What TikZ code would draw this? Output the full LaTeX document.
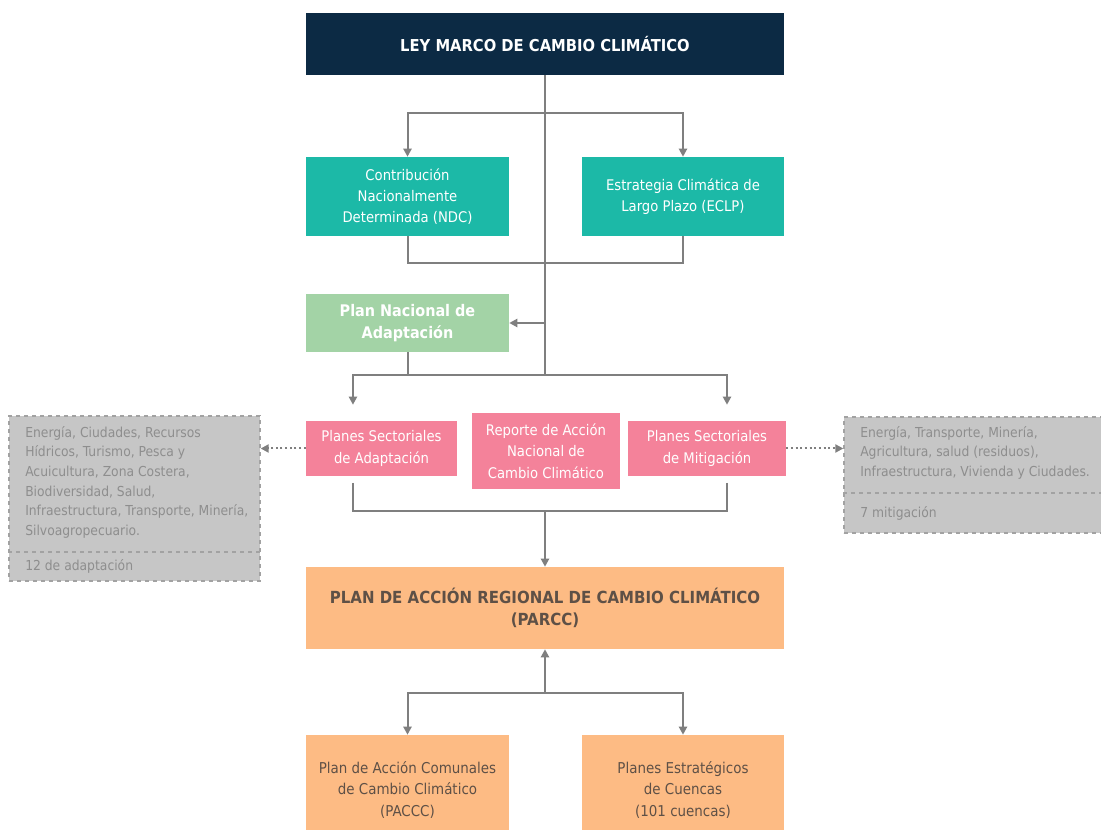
\documentclass[tikz,border=0pt]{standalone}
\usepackage{fontspec}
\setmainfont{DejaVu Sans Condensed}
\usetikzlibrary{arrows.meta,calc}
\definecolor{navy}{HTML}{0C2A44}
\definecolor{teal}{HTML}{1CB9A7}
\definecolor{lgreen}{HTML}{A3D3A6}
\definecolor{pink}{HTML}{F4829A}
\definecolor{orange}{HTML}{FDBB84}
\definecolor{greyfill}{HTML}{C6C6C6}
\definecolor{greyline}{HTML}{A2A2A2}
\definecolor{greytext}{HTML}{8E8E8E}
\definecolor{conn}{HTML}{7F7F7F}
\definecolor{brown}{HTML}{5E5046}
\tikzset{
  box/.style={rectangle, inner sep=2pt, align=center},
  conline/.style={draw=conn, line width=1.5pt},
  arr/.style={conline, -{Triangle[length=6pt,width=6pt]}},
  dotarr/.style={draw=conn, line width=1.5pt, dotted, -{Triangle[length=6pt,width=6pt]}},
  greybox/.style={rectangle, fill=greyfill, draw=greyline, dashed, line width=1pt},
  greytxt/.style={anchor=north west, align=left, text=greytext, font=\fontsize{10.3}{14.7}\selectfont, inner sep=0pt},
}
\begin{document}
\begin{tikzpicture}[x=0.75pt, y=-0.75pt]
\clip (0,0) rectangle (1101,830);
\fill[white] (0,0) rectangle (1101,830);
% boxes
\node[box, fill=navy, text=white, minimum width=358.5pt, minimum height=46.5pt, font=\fontsize{12.3}{14}\selectfont\bfseries] (title) at (545,44) {LEY MARCO DE CAMBIO CLIMÁTICO};
\node[box, fill=teal, text=white, minimum width=152.25pt, minimum height=59.25pt, font=\fontsize{11}{16}\selectfont] (ndc) at (407.5,196.5) {Contribución\\Nacionalmente\\Determinada (NDC)};
\node[box, fill=teal, text=white, minimum width=151.5pt, minimum height=59.25pt, font=\fontsize{11}{16}\selectfont] (eclp) at (683,196.5) {Estrategia Climática de\\Largo Plazo (ECLP)};
\node[box, fill=lgreen, text=white, minimum width=152.25pt, minimum height=43.5pt, font=\fontsize{12}{17}\selectfont\bfseries] (pna) at (407.5,323) {Plan Nacional de\\Adaptación};
\node[box, fill=pink, text=white, minimum width=113.25pt, minimum height=41.25pt, font=\fontsize{11}{16}\selectfont] (psa) at (381.5,448.5) {Planes Sectoriales\\de Adaptación};
\node[box, fill=pink, text=white, minimum width=111pt, minimum height=57pt, font=\fontsize{11}{16}\selectfont] (rep) at (546,451) {Reporte de Acción\\Nacional de\\Cambio Climático};
\node[box, fill=pink, text=white, minimum width=118.5pt, minimum height=41.25pt, font=\fontsize{11}{16}\selectfont] (psm) at (707,448.5) {Planes Sectoriales\\de Mitigación};
\node[box, fill=orange, text=brown, minimum width=358.5pt, minimum height=61.5pt, font=\fontsize{12.5}{17}\selectfont\bfseries] (parcc) at (545,608) {PLAN DE ACCIÓN REGIONAL DE CAMBIO CLIMÁTICO\\(PARCC)};
\node[box, fill=orange, text=brown, minimum width=152.25pt, minimum height=82.5pt, font=\fontsize{11.2}{16}\selectfont] (pac) at (407.5,790) {Plan de Acción Comunales\\de Cambio Climático\\(PACCC)};
\node[box, fill=orange, text=brown, minimum width=151.5pt, minimum height=82.5pt, font=\fontsize{11.2}{16}\selectfont] (pec) at (683,790) {Planes Estratégicos\\de Cuencas\\(101 cuencas)};
% grey boxes
\node[greybox, minimum width=188.25pt, minimum height=123.75pt] (lg) at (134.5,498.5) {};
\draw[greyline, dashed, line width=1pt] (lg.west |- 0,552) -- (lg.east |- 0,552);
\node[greytxt] (lgt) at (25,426) {Energía, Ciudades, Recursos\\Hídricos, Turismo, Pesca y\\Acuicultura, Zona Costera,\\Biodiversidad, Salud,\\Infraestructura, Transporte, Minería,\\Silvoagropecuario.};
\node[greytxt] (lgn) at (25,559) {12 de adaptación};
\node[greybox, minimum width=198pt, minimum height=87pt] (rg) at (976,475) {};
\draw[greyline, dashed, line width=1pt] (rg.west |- 0,493) -- (rg.east |- 0,493);
\node[greytxt] (rgt) at (860,426) {Energía, Transporte, Minería,\\Agricultura, salud (residuos),\\Infraestructura, Vivienda y Ciudades.};
\node[greytxt] (rgn) at (860,506) {7 mitigación};
% junctions
\coordinate (j1) at (545,113);
\coordinate (j2) at (545,263);
\coordinate (j3) at (545,323);
\coordinate (j4) at (545,375);
\coordinate (j5) at (545,511);
\coordinate (j6) at (545,693);
% connectors
\draw[conline] (title.south) -- (j4);
\draw[arr] (j1) -| (ndc.north);
\draw[arr] (j1) -| (eclp.north);
\draw[conline] (ndc.south) |- (j2);
\draw[conline] (eclp.south) |- (j2);
\draw[arr] (j3) -- (pna.east);
\draw[conline] (pna.south) |- (j4);
\draw[arr, shorten >=12pt] (j4) -| ([xshift=-21.4pt]psa.north);
\draw[arr, shorten >=12pt] (j4) -| ([xshift=15pt]psm.north);
\draw[conline, shorten <=5pt] ([xshift=-21.4pt]psa.south) |- (j5);
\draw[conline, shorten <=5pt] ([xshift=15pt]psm.south) |- (j5);
\draw[arr] (j5) -- (parcc.north);
\draw[arr] (j6) -- (parcc.south);
\draw[arr] (j6) -| (pac.north);
\draw[arr] (j6) -| (pec.north);
\draw[dotarr] (psa.west) -- (psa.west -| lg.east);
\draw[dotarr] (psm.east) -- (psm.east -| rg.west);
\end{tikzpicture}
\end{document}
